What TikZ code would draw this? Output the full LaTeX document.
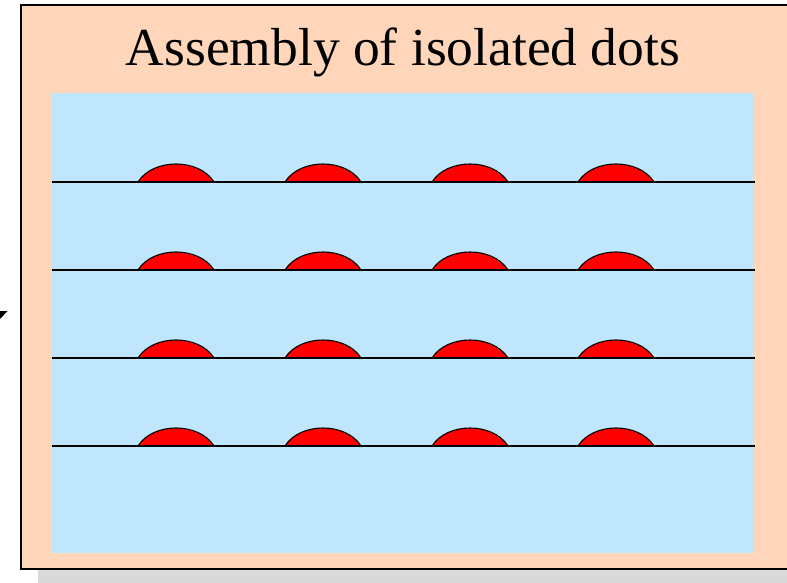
\documentclass[tikz,border=0pt]{standalone}
\usepackage{fontspec}
\setmainfont{Liberation Serif}
\definecolor{peach}{RGB}{255,214,186}
\definecolor{skyblue}{RGB}{191,230,252}
\definecolor{shadowgrey}{RGB}{217,217,217}
\begin{document}
\begin{tikzpicture}[x=1pt,y=-1pt,
  dome/.style={fill=red,draw=black,line width=1.1pt},
  surface/.style={draw=black,line width=1.1pt}]
\useasboundingbox (0,0) rectangle (787,583);
\clip (0,0) rectangle (787,583);
% shadow
\fill[shadowgrey] (38,22) rectangle (800,586);
% peach panel
\fill[peach] (21,5) rectangle (800,569);
\draw[line width=1.6pt] (800,5) -- (21,5) -- (21,569) -- (800,569);
% blue area
\fill[skyblue] (52,93) rectangle (754,553);
% title
\node[font=\fontsize{53.5}{64}\selectfont, anchor=base] (title) at (403,66) {Assembly of isolated dots};
% layers with dots
\foreach \y in {182,270,358,446}{
  \foreach \cx in {176,323,470,616}{
    \draw[dome] (\cx-38,\y) .. controls (\cx-23,\y-24) and (\cx+23,\y-24) .. (\cx+38,\y) -- cycle;
  }
  \draw[surface] (52,\y) -- (755,\y);
}
% clipped arrow tip at left
\fill (0,311) -- (7.5,311) -- (0,319) -- cycle;
\end{tikzpicture}
\end{document}
